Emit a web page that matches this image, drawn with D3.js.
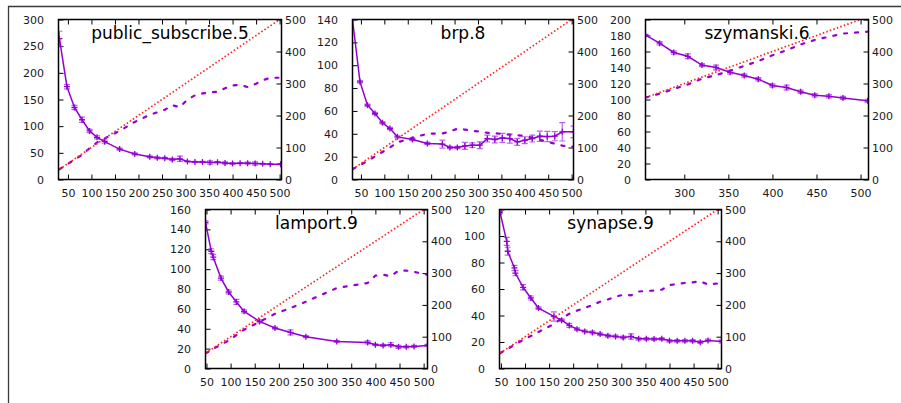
<!DOCTYPE html>
<html>
<head>
<meta charset="utf-8">
<script src="https://cdn.jsdelivr.net/npm/d3@7"></script>
<style>
  html, body { margin: 0; padding: 0; background: #fff; }
  svg { display: block; font-family: "DejaVu Sans", sans-serif; }
</style>
</head>
<body>
<svg id="chart" width="901" height="403"></svg>
<script>
// ---- measured data: x = worker count, time on left axis, used on right axis ----
const panelTitles = ["public_subscribe.5", "brp.8", "szymanski.6", "lamport.9", "synapse.9"];

const pubX    = [32, 48, 64, 80, 96, 112, 128, 160, 192, 224, 240, 256, 272, 288, 304, 320, 336, 352, 368, 384, 400, 416, 432, 448, 464, 480, 502];
const pubTime = [264, 174, 135, 112, 91, 79, 71, 57, 48, 42.5, 40.6, 40, 37.5, 38.8, 33.8, 33, 33, 32, 32.5, 31, 30, 30.6, 30.6, 30, 29.4, 28.8, 28.8];
const pubErr  = [14, 4, 4, 5, 3, 3, 3, 2, 2, 2, 2, 1.5, 2, 5, 1, 1, 1, 3, 1, 2, 1, 1, 2, 3, 1, 1, 1];
const pubUsed = [32, 47, 62, 77, 98, 116, 128, 152, 180, 202, 210, 218, 232, 226, 250, 263, 269, 272, 274, 285, 294, 296, 289, 298, 310, 318, 318];
const pubIdeal = [32, 502];

const brpX    = [32, 48, 64, 80, 96, 112, 128, 160, 192, 224, 240, 256, 272, 288, 304, 320, 336, 352, 368, 384, 400, 416, 432, 448, 464, 480, 504];
const brpTime = [140, 85.5, 65, 57.7, 49.6, 44.6, 37.3, 35, 31.5, 31, 28, 28, 29.4, 30, 30, 35.8, 35, 36.4, 35.8, 32.9, 34.4, 35.8, 37.9, 37.6, 37.9, 41.7, 41.7];
const brpErr  = [1, 1, 1, 1, 1, 1, 1, 1, 1, 3.5, 1, 1, 3, 2, 3, 3, 3, 4, 4, 3, 3, 3, 4.5, 4.5, 4, 8, 5];
const brpUsed = [32, 45, 58, 72, 86, 100, 116, 130, 143, 144, 150, 159, 156, 152, 150, 146, 145, 142, 140, 138, 136, 130, 124, 118, 112, 106, 102];
const brpIdeal = [32, 504];

const szyX    = [256, 272, 288, 304, 320, 336, 352, 368, 384, 400, 416, 432, 448, 464, 480, 508];
const szyTime = [180.4, 170.4, 158.8, 154, 143, 140, 134, 130, 125.4, 117.5, 115, 109.6, 105.4, 104, 102, 98.3];
const szyErr  = [1, 2, 2, 3, 2, 3, 2, 2, 2, 2, 3, 2, 2, 2, 2, 2];
const szyUsed = [256, 268, 283, 297, 315, 326, 340, 355, 370, 388, 404, 422, 436, 446, 456, 462];
const szyIdeal = [256, 508];

const lamX    = [48, 60, 64, 80, 96, 112, 128, 160, 192, 224, 256, 320, 384, 400, 416, 432, 448, 464, 480, 508];
const lamTime = [147, 118, 112, 91, 77, 67, 57.5, 47.4, 40.7, 36.3, 32, 27.2, 26.2, 23.9, 23.2, 23.9, 21.8, 21.8, 22.2, 23.2];
const lamErr  = [1.5, 2.5, 2.5, 2, 2, 2.5, 1.5, 1.5, 1, 2.5, 1, 1, 1.5, 1, 1, 2, 1.5, 1, 1, 1];
const lamUsed = [48, 57, 62, 75, 88, 105, 122, 147, 172, 190, 210, 253, 269, 292, 295, 290, 308, 308, 304, 295];
const lamIdeal = [48, 508];

const synX    = [48, 62, 64, 78, 80, 96, 112, 128, 160, 176, 192, 208, 224, 240, 256, 272, 288, 304, 320, 336, 352, 368, 384, 400, 416, 432, 448, 464, 480, 508];
const synTime = [118, 96, 88.5, 75.9, 72, 61.3, 53.2, 45.6, 39.3, 36.5, 32.5, 29.7, 28, 27.2, 26, 24.7, 24.2, 23.4, 24.2, 22.4, 22.4, 22.2, 22.4, 20.9, 20.9, 20.9, 20.9, 19.9, 21.2, 20.4];
const synErr  = [1, 3, 3, 2, 2, 2, 1.5, 1, 3.5, 1, 1.5, 1, 1, 1, 1, 1, 1, 1, 2, 1, 1, 1, 1, 1, 1, 1, 1, 1, 1, 1];
const synUsed = [48, 60, 62, 74, 76, 90, 102, 115, 140, 158, 172, 182, 190, 200, 210, 217, 226, 232, 230, 242, 244, 245, 248, 262, 266, 269, 271, 274, 264, 269];
const synIdeal = [48, 508];

// ---- tick values ----
const xTicksWide   = [50, 100, 150, 200, 250, 300, 350, 400, 450, 500];
const xTicksNarrow = [300, 350, 400, 450, 500];
const y2Ticks      = [0, 100, 200, 300, 400, 500];
const yTicksPub    = [0, 50, 100, 150, 200, 250, 300];
const yTicksBrp    = [0, 20, 40, 60, 80, 100, 120, 140];
const yTicksSzy    = [0, 20, 40, 60, 80, 100, 120, 140, 160, 180, 200];
const yTicksLam    = [0, 20, 40, 60, 80, 100, 120, 140, 160];
const yTicksSyn    = [0, 20, 40, 60, 80, 100, 120];

// ---- panels: data plus layout ----
const panels = [
  { title: panelTitles[0], xs: pubX, time: pubTime, err: pubErr, used: pubUsed, ideal: pubIdeal,
    xDomain: [30, 504], yTicks: yTicksPub, xTicks: xTicksWide,
    left: 58.5, right: 281.5, top: 19.5, bottom: 179.5 },
  { title: panelTitles[1], xs: brpX, time: brpTime, err: brpErr, used: brpUsed, ideal: brpIdeal,
    xDomain: [32, 504], yTicks: yTicksBrp, xTicks: xTicksWide,
    left: 352.5, right: 573.5, top: 19.5, bottom: 179.5 },
  { title: panelTitles[2], xs: szyX, time: szyTime, err: szyErr, used: szyUsed, ideal: szyIdeal,
    xDomain: [256, 509], yTicks: yTicksSzy, xTicks: xTicksNarrow,
    left: 645.5, right: 868.5, top: 19.5, bottom: 179.5 },
  { title: panelTitles[3], xs: lamX, time: lamTime, err: lamErr, used: lamUsed, ideal: lamIdeal,
    xDomain: [48, 508], yTicks: yTicksLam, xTicks: xTicksWide,
    left: 205.5, right: 427.5, top: 209.5, bottom: 368.5 },
  { title: panelTitles[4], xs: synX, time: synTime, err: synErr, used: synUsed, ideal: synIdeal,
    xDomain: [47, 508], yTicks: yTicksSyn, xTicks: xTicksWide,
    left: 499.5, right: 721.5, top: 209.5, bottom: 368.5 }
];

const LINE = "#9400d3";
const ERRBAR = "#b866e8";
const IDEAL = "#ff2020";
const TICK = 5;

const svg = d3.select("#chart");

// figure border (top and left edges)
svg.append("path")
  .attr("d", d3.line()([[8.5, 403], [8.5, 6.5], [901, 6.5]]))
  .attr("fill", "none")
  .attr("stroke", "#3a3a3a")
  .attr("stroke-width", 1.3);

function styleAxis(sel) {
  sel.select(".domain").remove();
  sel.attr("font-family", "'DejaVu Sans', sans-serif")
     .attr("font-size", 11)
     .attr("color", "#000");
  sel.selectAll(".tick line").attr("stroke-width", 1);
  sel.selectAll(".tick text").attr("fill", "#1a1a1a");
}

panels.forEach((p, i) => {
  const g = svg.append("g");
  const x = d3.scaleLinear().domain(p.xDomain).range([p.left, p.right]);
  const y = d3.scaleLinear().domain([0, d3.max(p.yTicks)]).range([p.bottom, p.top]);
  const y2 = d3.scaleLinear().domain([0, d3.max(y2Ticks)]).range([p.bottom, p.top]);

  // axes: ticks point inward on all four sides
  g.append("g").attr("transform", `translate(0,${p.bottom})`)
    .call(d3.axisBottom(x).tickValues(p.xTicks).tickSizeInner(-TICK).tickSizeOuter(0).tickPadding(9.5))
    .call(styleAxis);
  g.append("g").attr("transform", `translate(0,${p.top})`)
    .call(d3.axisTop(x).tickValues(p.xTicks).tickSizeInner(-TICK).tickSizeOuter(0).tickFormat(""))
    .call(styleAxis);
  g.append("g").attr("transform", `translate(${p.left},0)`)
    .call(d3.axisLeft(y).tickValues(p.yTicks).tickSizeInner(-TICK).tickSizeOuter(0).tickPadding(14.5))
    .call(styleAxis);
  g.append("g").attr("transform", `translate(${p.right},0)`)
    .call(d3.axisRight(y2).tickValues(y2Ticks).tickSizeInner(-TICK).tickSizeOuter(0).tickPadding(3.5))
    .call(styleAxis);

  // clip region for the plotted series
  const clipId = "clip" + i;
  svg.append("clipPath").attr("id", clipId)
    .append("rect")
    .attr("x", p.left).attr("y", p.top)
    .attr("width", p.right - p.left).attr("height", p.bottom - p.top);

  const plot = g.append("g").attr("clip-path", `url(#${clipId})`);
  const rows = p.xs.map((v, k) => ({ x: v, t: p.time[k], e: p.err[k], u: p.used[k] }));

  // error bars
  const eb = plot.append("g").attr("stroke", ERRBAR).attr("stroke-width", 1.2).attr("fill", "none");
  rows.forEach(r => {
    const cx = x(r.x), y0 = y(r.t - r.e), y1 = y(r.t + r.e);
    eb.append("path").attr("d", d3.line()([[cx, y0], [cx, y1]]));
    eb.append("path").attr("d", d3.line()([[cx - 3, y0], [cx + 3, y0]]));
    eb.append("path").attr("d", d3.line()([[cx - 3, y1], [cx + 3, y1]]));
  });

  // time curve with "+" markers
  plot.append("path").datum(rows)
    .attr("d", d3.line().x(r => x(r.x)).y(r => y(r.t)))
    .attr("fill", "none").attr("stroke", LINE).attr("stroke-width", 1.5);
  plot.append("g").selectAll("path").data(rows).join("path")
    .attr("transform", r => `translate(${x(r.x)},${y(r.t)})`)
    .attr("d", "M-3,0H3M0,-3V3")
    .attr("stroke", LINE).attr("stroke-width", 1.3).attr("fill", "none");

  // used workers, dashed, right axis
  plot.append("path").datum(rows)
    .attr("d", d3.line().x(r => x(r.x)).y(r => y2(r.u)))
    .attr("fill", "none").attr("stroke", LINE).attr("stroke-width", 2.2)
    .attr("stroke-linecap", "round")
    .attr("stroke-dasharray", "3,8");

  // ideal (all workers used), dotted, right axis
  plot.append("path").datum(p.ideal)
    .attr("d", d3.line().x(v => x(v)).y(v => y2(v)))
    .attr("fill", "none").attr("stroke", IDEAL).attr("stroke-width", 1.7)
    .attr("stroke-dasharray", "1.5,2.2");

  // frame
  g.append("rect")
    .attr("x", p.left).attr("y", p.top)
    .attr("width", p.right - p.left).attr("height", p.bottom - p.top)
    .attr("fill", "none").attr("stroke", "#000").attr("stroke-width", 1.5);

  // title inside the plot
  g.append("text")
    .attr("x", (p.left + p.right) / 2)
    .attr("y", p.top + 19)
    .attr("text-anchor", "middle")
    .attr("font-size", 17)
    .attr("fill", "#000")
    .text(p.title);
});
</script>
</body>
</html>
